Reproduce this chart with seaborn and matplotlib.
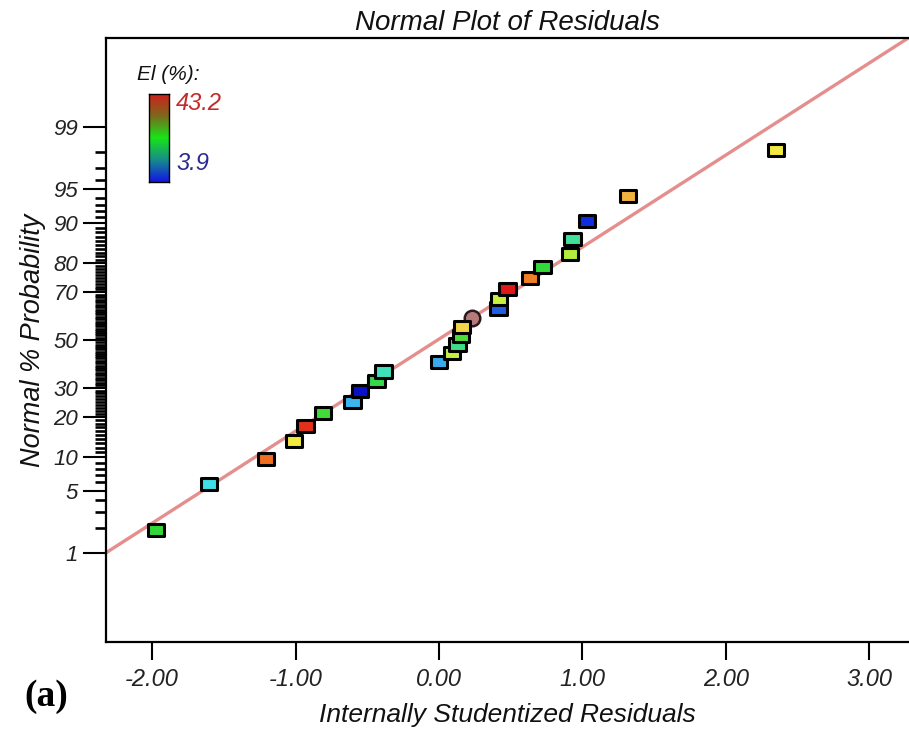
import numpy as np
import pandas as pd
import matplotlib
matplotlib.use("Agg")
import matplotlib.pyplot as plt
from matplotlib.colors import LinearSegmentedColormap, Normalize
from matplotlib.path import Path
from matplotlib.ticker import FixedLocator, NullFormatter
from statistics import NormalDist
import seaborn as sns

# ---------------- data ----------------
residuals = [-1.973, -1.602, -1.206, -1.013, -0.930, -0.807, -0.603, -0.549,
             -0.437, -0.388, 0.000, 0.091, 0.129, 0.152, 0.160, 0.416,
             0.418, 0.479, 0.635, 0.723, 0.914, 0.932, 1.032, 1.316, 2.350]
norm_prob = [1.92, 5.77, 9.62, 13.46, 17.31, 21.15, 25.00, 28.85,
             32.69, 36.54, 40.38, 44.23, 48.08, 51.92, 55.77, 63.46,
             67.31, 71.15, 75.00, 78.85, 82.69, 86.54, 90.38, 94.23, 98.08]
el_values = [23.6, 15.7, 39.3, 33.4, 42.0, 24.3, 11.0, 3.9,
             22.8, 18.0, 10.6, 29.4, 20.4, 24.7, 34.6, 7.0,
             29.8, 43.2, 38.5, 23.6, 28.7, 19.6, 5.1, 36.1, 33.4]
# the single round (circle) point
circle_residual = [0.227]
circle_prob = [59.62]
# reference line (in probit units): z = slope * residual + intercept
line_slope = 1.005
line_intercept = 0.01

y_major = [1, 5, 10, 20, 30, 50, 70, 80, 90, 95, 99]
y_minor = [v for v in range(1, 100) if v not in y_major]
x_major = [-2.0, -1.0, 0.0, 1.0, 2.0, 3.0]
el_label = "El (%):"

df = pd.DataFrame({"res": residuals, "prob": norm_prob, "el": el_values})

# ---------------- style ----------------
sns.set_theme(style="white")
plt.rcParams["font.family"] = ["Liberation Sans", "DejaVu Sans"]
plt.rcParams["font.style"] = "italic"

nd = NormalDist()
_ppf = np.vectorize(nd.inv_cdf, otypes=[float])
_cdf = np.vectorize(nd.cdf, otypes=[float])


def fwd(p):
    p = np.clip(np.asarray(p, dtype=float) / 100.0, 1e-12, 1 - 1e-12)
    return _ppf(p)


def inv(z):
    return _cdf(np.asarray(z, dtype=float)) * 100.0


W, H = 909, 731
fig = plt.figure(figsize=(W / 100, H / 100), dpi=100)
ax_l, ax_r, ax_t, ax_b = 106, 909, 38.3, 642
ax = fig.add_axes([ax_l / W, 1 - ax_b / H, (ax_r - ax_l) / W, (ax_b - ax_t) / H])

ax.set_yscale("function", functions=(fwd, inv))
xmin, xmax = -2.322, 3.277
zmin, zmax = -3.298, 3.295
ax.set_xlim(xmin, xmax)
ax.set_ylim(float(inv(zmin)), float(inv(zmax)))

# reference line
line_x = np.array([xmin, xmax])
line_y = inv(line_slope * line_x + line_intercept)
sns.lineplot(x=line_x, y=line_y, ax=ax, color="#e48e8e", lw=2.4, zorder=2,
             solid_capstyle="butt")

# circle point (behind)
sns.scatterplot(x=circle_residual, y=circle_prob, ax=ax, marker="o", s=125,
                color="#b77a7a", edgecolor="#2a1a1a", linewidth=1.8, zorder=3,
                legend=False)

# point colour map (rainbow-like, as in the plot)
pt_cmap = LinearSegmentedColormap.from_list("pts", [
    (0.00, "#0a10c8"), (0.03, "#1030e0"), (0.08, "#2060e0"), (0.18, "#3cb4ee"),
    (0.30, "#40dfe6"), (0.40, "#40e09a"), (0.50, "#30d838"), (0.65, "#c4f040"),
    (0.75, "#f0ec40"), (0.80, "#f2c450"), (0.84, "#f0a030"), (0.90, "#f07020"),
    (1.00, "#e01818")])

rect = Path([(-1.0, -0.74), (1.0, -0.74), (1.0, 0.74), (-1.0, 0.74), (-1.0, -0.74)],
            [Path.MOVETO, Path.LINETO, Path.LINETO, Path.LINETO, Path.CLOSEPOLY])

sns.scatterplot(data=df, x="res", y="prob", hue="el", palette=pt_cmap,
                hue_norm=Normalize(3.9, 43.2), marker=rect, s=140,
                edgecolor="black", linewidth=2.2, ax=ax, zorder=4, legend=False)

# axes cosmetics
ax.set_xlim(xmin, xmax)
ax.set_ylim(float(inv(zmin)), float(inv(zmax)))
ax.yaxis.set_major_locator(FixedLocator(y_major))
ax.yaxis.set_minor_locator(FixedLocator(y_minor))
ax.yaxis.set_minor_formatter(NullFormatter())
ax.set_yticklabels([str(v) for v in y_major])
ax.xaxis.set_major_locator(FixedLocator(x_major))
ax.set_xticklabels([f"{v:.2f}" for v in x_major])

for s in ["left", "bottom", "top"]:
    ax.spines[s].set_visible(True)
    ax.spines[s].set_color("black")
    ax.spines[s].set_linewidth(1.6)
ax.spines["right"].set_visible(False)

ax.tick_params(axis="y", which="major", direction="out", length=16.5, width=1.5,
               color="black", labelsize=16, pad=3.5, left=True, right=False)
ax.tick_params(axis="y", which="minor", direction="out", length=8, width=1.9,
               color="black", left=True, right=False)
ax.tick_params(axis="x", which="major", direction="out", length=13, width=1.5,
               color="black", labelsize=17, pad=6, bottom=True, top=False)
for lab in ax.get_xticklabels() + ax.get_yticklabels():
    lab.set_fontstyle("italic")
    lab.set_color("#222222")

ax.set_title("Normal Plot of Residuals", fontsize=20, style="italic",
             color="#111111", pad=6)
ax.set_xlabel("Internally Studentized Residuals", fontsize=19, style="italic",
              color="#111111")
ax.xaxis.set_label_coords(0.5, -(703 - ax_b) / (ax_b - ax_t))
ax.set_ylabel("Normal % Probability", fontsize=19.5, style="italic",
              color="#111111")
ax.yaxis.set_label_coords(-(ax_l - 46) / (ax_r - ax_l), 0.5)

# colour-scale legend
bar_cmap = LinearSegmentedColormap.from_list("bar", [
    (0.0, "#1414e6"), (0.25, "#168c8c"), (0.5, "#18e418"), (0.75, "#7a6a1c"),
    (1.0, "#d0201c")])
cax = fig.add_axes([149 / W, 1 - 182 / H, 20 / W, 88 / H])
cax.imshow(np.linspace(0, 1, 256)[:, None], aspect="auto", cmap=bar_cmap,
           origin="lower", extent=[0, 1, 0, 1])
cax.set_xticks([])
cax.set_yticks([])
for s in cax.spines.values():
    s.set_visible(True)
    s.set_color("black")
    s.set_linewidth(1.0)

fig.text(137 / W, 1 - 75 / H, el_label, fontsize=15, style="italic",
         color="#111111", ha="left", va="center")
fig.text(176 / W, 1 - 104 / H, f"{max(el_values):.1f}", fontsize=17,
         style="italic", color="#c42a2a", ha="left", va="center")
fig.text(176 / W, 1 - 163 / H, f"{min(el_values):.1f}", fontsize=17,
         style="italic", color="#2a2a8e", ha="left", va="center")

fig.text(46 / W, 1 - 697 / H, "(a)", fontsize=27, fontweight="bold",
         style="normal", family=["Liberation Serif", "DejaVu Serif"],
         ha="center", va="center", color="black")

fig.savefig("out.png", dpi=100, facecolor="white")
